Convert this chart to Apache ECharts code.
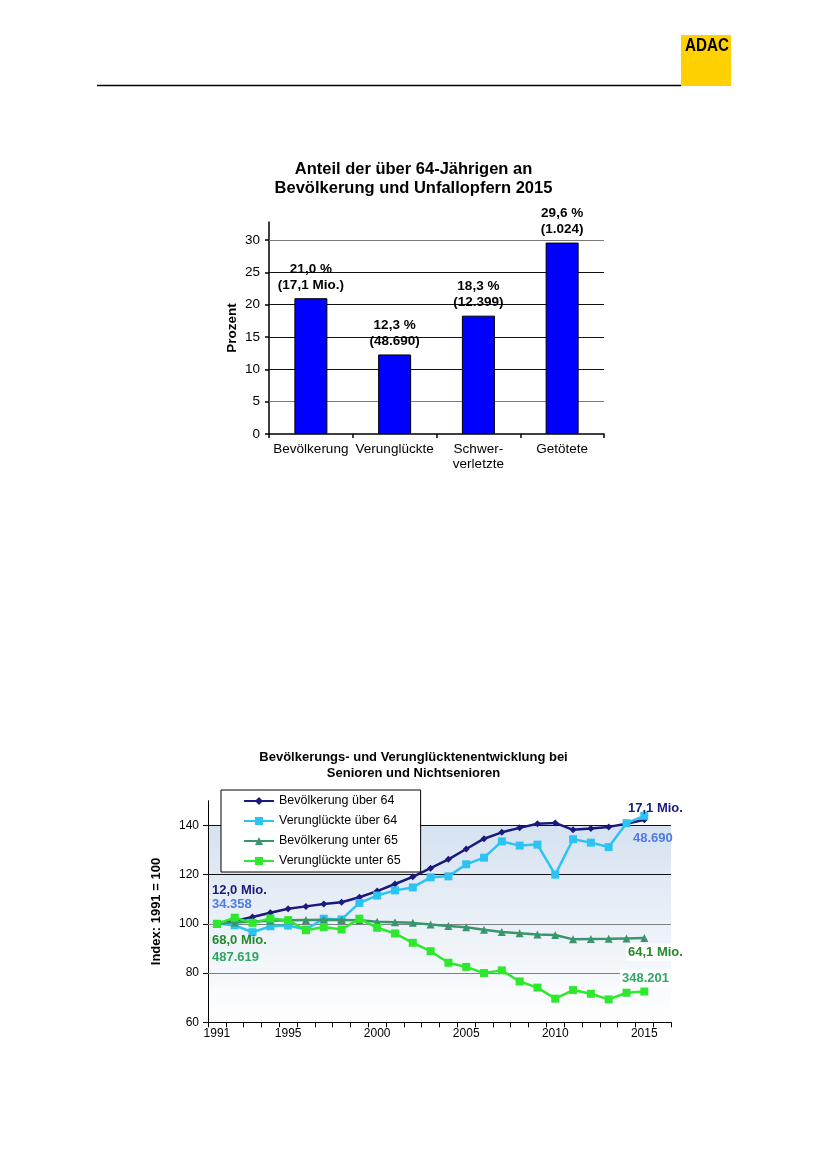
<!DOCTYPE html>
<html>
<head>
<meta charset="utf-8">
<script src="https://cdn.jsdelivr.net/npm/echarts@6/dist/echarts.min.js"></script>
<style>
html,body{margin:0;padding:0;background:#fff;}
#c{width:827px;height:1169px;}
</style>
</head>
<body>
<div id="c"></div>
<script>
// ---------- Chart 1: Anteil der über 64-Jährigen ----------
const barCategories = ['Bevölkerung', 'Verunglückte', 'Schwer-\nverletzte', 'Getötete'];
const barValues = [21.0, 12.3, 18.3, 29.6];
const barLabels = ['21,0 %\n(17,1 Mio.)', '12,3 %\n(48.690)', '18,3 %\n(12.399)', '29,6 %\n(1.024)'];
const barYTicks = [0, 5, 10, 15, 20, 25, 30];

// ---------- Chart 2: Index 1991 = 100 ----------
const years = ['1991','1992','1993','1994','1995','1996','1997','1998','1999','2000',
               '2001','2002','2003','2004','2005','2006','2007','2008','2009','2010',
               '2011','2012','2013','2014','2015'];
const yearTickLabels = ['1991','1995','2000','2005','2010','2015'];
const bevUeber64 = [100, 101.2, 102.8, 104.5, 106.1, 107.1, 108.1, 108.8, 110.8, 113.3,
                    116.2, 119.1, 122.6, 126.2, 130.4, 134.6, 137.2, 139.0, 140.7, 141.0,
                    138.2, 138.7, 139.4, 140.7, 142.3];
const verUeber64 = [100, 99.4, 96.6, 99.0, 99.3, 97.7, 102.1, 101.8, 108.5, 111.5,
                    113.6, 114.8, 118.9, 119.3, 124.2, 126.9, 133.5, 131.8, 132.2, 120.0,
                    134.4, 133.0, 131.2, 140.9, 143.9];
const bevUnter65 = [100, 100.6, 101.0, 101.3, 101.5, 101.6, 101.7, 101.6, 101.5, 100.9,
                    100.7, 100.4, 99.7, 99.1, 98.6, 97.6, 96.7, 96.2, 95.7, 95.5,
                    93.7, 93.8, 93.9, 94.1, 94.3];
const verUnter65 = [100, 102.5, 100.4, 102.2, 101.5, 97.4, 98.7, 97.7, 102.1, 98.4,
                    96.1, 92.3, 88.9, 84.2, 82.5, 80.0, 81.1, 76.6, 74.1, 69.6,
                    73.1, 71.6, 69.3, 72.0, 72.5];
const lineYTicks = [60, 80, 100, 120, 140];
const lineGridValues = [80, 100, 120, 140];
const seriesNames = ['Bevölkerung über 64', 'Verunglückte über 64', 'Bevölkerung unter 65', 'Verunglückte unter 65'];

// ---------- styles ----------
const FONT = '"Liberation Sans", Arial, sans-serif';
const NAVY = '#1a1a7e', LBLUE = '#2cc3f2', TEAL = '#3a956b', GREEN = '#2ee82e';

const xCats = years.concat(['']); // axis runs one band past 2015

const chart = echarts.init(document.getElementById('c'), null, {renderer: 'canvas'});

const barGridLines = barYTicks.filter(v => v > 0).map(v => ({
  yAxis: v,
  lineStyle: {color: (v === 5 || v === 30) ? '#7a7a7a' : '#111', width: 1, type: 'solid'}
}));
const lineGridLines = lineGridValues.map(v => ({
  yAxis: v,
  lineStyle: {color: v >= 120 ? '#111' : '#808080', width: 1, type: 'solid'}
}));

function txt(text, x, y, color, extra) {
  return {
    type: 'text', x: x, y: y, z: 50,
    style: Object.assign({text: text, fill: color, font: 'bold 13px ' + FONT,
      align: 'left', verticalAlign: 'middle'}, extra || {})
  };
}

const option = {
  animation: false,
  backgroundColor: '#fff',
  textStyle: {fontFamily: FONT},
  title: [
    {
      text: 'Anteil der über 64-Jährigen an\nBevölkerung und Unfallopfern 2015',
      left: 'center', top: 160, padding: 0,
      textStyle: {fontFamily: FONT, fontSize: 16.5, fontWeight: 'bold', color: '#000', lineHeight: 19}
    },
    {
      text: 'Bevölkerungs- und Verunglücktenentwicklung bei\nSenioren und Nichtsenioren',
      left: 'center', top: 749, padding: 0,
      textStyle: {fontFamily: FONT, fontSize: 13, fontWeight: 'bold', color: '#000', lineHeight: 16}
    }
  ],
  legend: {
    orient: 'vertical',
    left: 221, top: 790,
    itemWidth: 30, itemHeight: 10, itemGap: 6,
    padding: [4, 20, 4, 22],
    backgroundColor: '#fff', borderColor: '#000', borderWidth: 1, borderRadius: 0,
    data: seriesNames,
    textStyle: {fontFamily: FONT, fontSize: 12.5, color: '#000', lineHeight: 14},
    z: 20
  },
  grid: [
    {left: 269, right: 223, top: 221.9, bottom: 735, containLabel: false},
    {left: 208, right: 156, top: 800.8, bottom: 146.7, containLabel: false}
  ],
  xAxis: [
    {
      gridIndex: 0, type: 'category', data: barCategories,
      axisLine: {show: true, lineStyle: {color: '#000', width: 1.5}},
      axisTick: {show: true, alignWithLabel: false, length: 4, lineStyle: {color: '#000', width: 1.5}},
      axisLabel: {interval: 0, fontFamily: FONT, fontSize: 13.5, lineHeight: 15, color: '#000', margin: 8},
      splitLine: {show: false}
    },
    {
      gridIndex: 1, type: 'category', data: xCats, boundaryGap: true,
      axisLine: {show: true, lineStyle: {color: '#000', width: 1}},
      axisTick: {show: true, interval: 0, alignWithLabel: false, length: 5, lineStyle: {color: '#000', width: 1}},
      axisLabel: {
        interval: (idx, val) => yearTickLabels.indexOf(val) >= 0,
        fontFamily: FONT, fontSize: 12, color: '#000', margin: 5
      },
      splitLine: {show: false}
    }
  ],
  yAxis: [
    {
      gridIndex: 0, type: 'value', min: 0, max: 32.8, interval: 5,
      name: 'Prozent', nameLocation: 'middle', nameGap: 30,
      nameTextStyle: {fontFamily: FONT, fontSize: 13.5, fontWeight: 'bold', color: '#000'},
      axisLine: {show: true, lineStyle: {color: '#000', width: 1.5}},
      axisTick: {show: true, length: 4, customValues: barYTicks, lineStyle: {color: '#000', width: 1.5}},
      axisLabel: {customValues: barYTicks, fontFamily: FONT, fontSize: 13.5, color: '#000', margin: 9},
      splitLine: {show: false}
    },
    {
      gridIndex: 1, type: 'value', min: 60, max: 150, interval: 20,
      name: 'Index: 1991 = 100', nameLocation: 'middle', nameGap: 45,
      nameTextStyle: {fontFamily: FONT, fontSize: 13, fontWeight: 'bold', color: '#000'},
      axisLine: {show: true, lineStyle: {color: '#000', width: 1}},
      axisTick: {show: true, length: 5, customValues: lineYTicks, lineStyle: {color: '#000', width: 1}},
      axisLabel: {customValues: lineYTicks, fontFamily: FONT, fontSize: 12, color: '#000', margin: 9},
      splitLine: {show: false}
    }
  ],
  series: [
    // gridlines behind the bars
    {
      type: 'line', xAxisIndex: 0, yAxisIndex: 0, data: [], silent: true, z: 1,
      markLine: {silent: true, symbol: 'none', z: 1, label: {show: false}, animation: false, data: barGridLines}
    },
    {
      type: 'bar', xAxisIndex: 0, yAxisIndex: 0, data: barValues, barWidth: 33, z: 3,
      itemStyle: {color: '#0000ff', borderColor: '#000', borderWidth: 1},
      label: {
        show: true, position: 'top', distance: 5,
        formatter: p => barLabels[p.dataIndex],
        fontFamily: FONT, fontSize: 13.5, fontWeight: 'bold', lineHeight: 16, color: '#000'
      }
    },
    // plot-area gradient + gridlines for chart 2
    {
      type: 'line', xAxisIndex: 1, yAxisIndex: 1, data: [], silent: true, z: 0,
      markArea: {
        silent: true, z: 0,
        itemStyle: {
          color: {type: 'linear', x: 0, y: 0, x2: 0, y2: 1,
                  colorStops: [{offset: 0, color: '#d6e2f1'}, {offset: 1, color: '#ffffff'}]}
        },
        data: [[{yAxis: 60}, {yAxis: 140}]]
      }
    },
    {
      type: 'line', xAxisIndex: 1, yAxisIndex: 1, data: [], silent: true, z: 1,
      markLine: {silent: true, symbol: 'none', z: 1, label: {show: false}, animation: false, data: lineGridLines}
    },
    {
      name: seriesNames[0], type: 'line', xAxisIndex: 1, yAxisIndex: 1, data: bevUeber64, z: 3,
      symbol: 'diamond', symbolSize: 7, showAllSymbol: true,
      lineStyle: {width: 2.5, color: NAVY}, itemStyle: {color: NAVY}
    },
    {
      name: seriesNames[1], type: 'line', xAxisIndex: 1, yAxisIndex: 1, data: verUeber64, z: 4,
      symbol: 'rect', symbolSize: 8, showAllSymbol: true,
      lineStyle: {width: 2.5, color: LBLUE}, itemStyle: {color: LBLUE}
    },
    {
      name: seriesNames[2], type: 'line', xAxisIndex: 1, yAxisIndex: 1, data: bevUnter65, z: 5,
      symbol: 'triangle', symbolSize: 8, showAllSymbol: true,
      lineStyle: {width: 2.5, color: TEAL}, itemStyle: {color: TEAL}
    },
    {
      name: seriesNames[3], type: 'line', xAxisIndex: 1, yAxisIndex: 1, data: verUnter65, z: 6,
      symbol: 'rect', symbolSize: 8, showAllSymbol: true,
      lineStyle: {width: 2.5, color: GREEN}, itemStyle: {color: GREEN}
    }
  ],
  graphic: [
    {type: 'line', z: 10, shape: {x1: 97, y1: 85.5, x2: 681, y2: 85.5}, style: {stroke: '#000', lineWidth: 1.5}},
    {type: 'rect', z: 10, shape: {x: 681, y: 35, width: 50, height: 51}, style: {fill: '#ffd100'}},
    {type: 'text', z: 11, x: 707, y: 45.5, scaleX: 0.8, scaleY: 1,
     style: {text: 'ADAC', fill: '#000', font: 'bold 19px "Liberation Sans", Arial', align: 'center', verticalAlign: 'middle'}},
    txt('12,0 Mio.', 212, 890, NAVY),
    txt('34.358', 212, 904.5, '#4f7be6'),
    txt('68,0 Mio.', 212, 940, '#258a2a'),
    txt('487.619', 212, 957, '#2ea862'),
    txt('17,1 Mio.', 628, 808, NAVY),
    txt('48.690', 633, 838, '#4f7be6'),
    txt('64,1 Mio.', 626, 952, '#258a2a', {backgroundColor: '#fff', padding: [2, 2, 2, 2]}),
    txt('348.201', 620, 978, '#2ea862', {backgroundColor: '#fff', padding: [2, 2, 2, 2]})
  ]
};

chart.setOption(option);
</script>
</body>
</html>
